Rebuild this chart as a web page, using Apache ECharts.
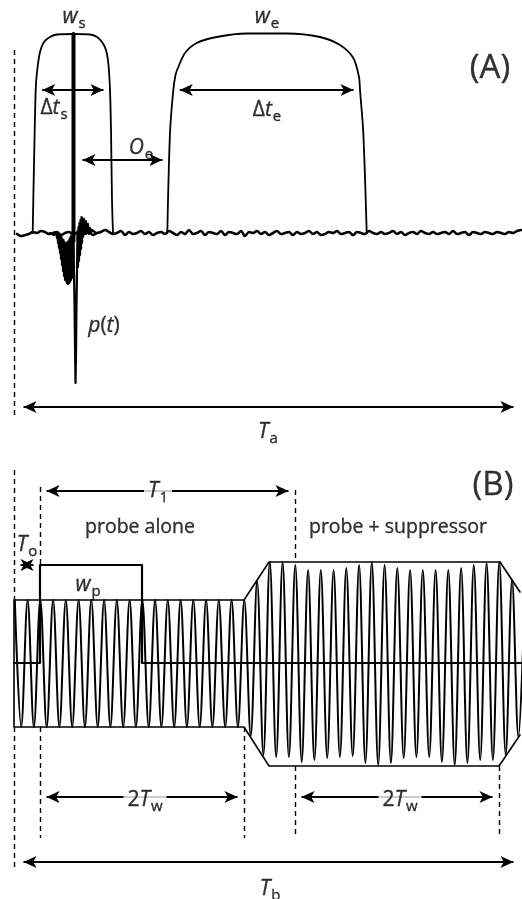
<!DOCTYPE html>
<html>
<head>
<meta charset="utf-8">
<script src="https://cdn.jsdelivr.net/npm/echarts@6/dist/echarts.min.js"></script>
<style>
  html, body { margin: 0; padding: 0; background: #fff; }
  #c { width: 522px; height: 899px; }
</style>
</head>
<body>
<div id="c"></div>
<script>
// ---------- Panel A: analysis windows and recorded pressure p(t) ----------
// time measured from the dashed origin, amplitude above the baseline
const sWinT = [18.7, 19.3, 20.5, 21.7, 23, 26, 30, 36, 43, 60, 76, 83, 88, 92, 94.5, 96, 97, 98, 99];
const sWinA = [0, 33, 93, 143, 161, 181, 191, 196, 198.5, 199, 198.5, 196, 191, 183, 168, 143, 103, 33, 0];

const eWinT = [153.3, 156, 159.3, 161.5, 164.3, 171, 182.7, 202.7, 232.7, 272.7, 306, 326, 339.3, 345, 346, 349.3, 352.7];
const eWinA = [0, 100, 143, 158, 166, 180, 190, 196, 199.5, 199.5, 196, 188, 175, 156, 143, 100, 0];

// direct-path pulse p(t)
const pulseT = [36, 38, 40, 42,
  43, 43.5, 44, 44.5, 45, 45.5, 46, 46.5, 47, 47.5,
  48, 48.5, 49, 49.5, 50, 50.5, 51, 51.5, 52, 52.5,
  53, 53.5, 54, 54.5, 55, 55.5, 56, 56.5, 57, 57.5,
  58, 58.5, 59, 59.5, 60, 60.5, 61, 61.5, 62, 62.5,
  63, 63.5, 64, 64.5, 65, 65.5, 66, 66.5, 67, 67.5,
  68, 68.5, 69,
  70, 71, 72, 73, 74, 75, 76, 77, 78, 80, 82];
const pulseA = [0, 2, -2, 1,
  -5, 0, -10, -1, -15, -2, -20, -3, -26, -4,
  -32, -6, -38, -7, -43, -9, -47, -10, -48, -10,
  -50, -9, -51, -8, -50, -6, -49, -4, -47, -2,
  -45, 0, -42, 4, -40, -70, -110, -150, -120, -70,
  -38, 2, -34, 6, -28, 10, -22, 13, -16, 16,
  -10, 15, -4,
  14, -1, 12, 0, 9, -1, 5, 0, 3, 1, 0];

// background noise along the baseline, one reading every noiseStep
const noiseStart = 3, noiseStep = 4;
const noiseA = [
  -1, -3, -2, -1, 1, 0, 2, 1, -1, 0, 1, -2,
  0, 1, -1, 0, 2, -1, 1, -2, 0, 1, 3, 1,
  -1, 0, 2, -2, 1, -1, 0, 2, -1, 1, -2, 0,
  1, -1, 2, 0, -2, 1, -1, 3, -1, 0, 2, -2,
  1, 0, -1, 2, -2, 1, 0, -1, 2, -3, 1, 0,
  2, -1, 1, -2, 0, 2, -1, 0, 1, -2, 1, -1,
  0, 2, -1, 1, -2, -1, 1, 0, 2, -1, 0, 1,
  -2, 1, 0, -1, 2, 0, -1, 1, -1, 0, 2, -1,
  1, -2, 0, 1, -1, 2, 0, -1, 1, -1, 0, 1,
  -1, 2, -1, 0, 1, -2, 1, 0, -1, 1, 0, -1,
  1, 0, -1, 1, 0, 2, 3
];

// ---------- Panel B: probe burst, then probe + suppressor ----------
// successive peaks and troughs of the carrier
const carrierT = [0.8, 7.2, 13.6, 19.9, 26.3, 32.7, 39.1, 45.4, 51.8, 58.2, 64.6, 70.9, 77.3, 83.7, 90.1, 96.4,
  102.8, 109.2, 115.6, 121.9, 128.3, 134.7, 141.1, 147.4, 153.8, 160.2, 166.6, 172.9, 179.3, 185.7, 192.1,
  198.4, 204.8, 211.2, 217.6, 223.9, 230.3,
  236.7, 243.1, 249.4, 255.8,
  262.2, 268.6, 274.9, 281.3, 287.7, 294.1, 300.4, 306.8, 313.2, 319.6, 325.9, 332.3, 338.7, 345.1, 351.4,
  357.8, 364.2, 370.6, 376.9, 383.3, 389.7, 396.1, 402.4, 408.8, 415.2, 421.6, 427.9, 434.3, 440.7, 447.1,
  453.4, 459.8, 466.2, 472.6, 478.9, 485.3, 491.7, 498.1, 504.4, 510.8];
const carrierA = [63, -64, 63, -64, 63, -64, 63, -64, 63, -64, 63, -64, 63, -64, 63, -64,
  63, -64, 63, -64, 63, -64, 63, -64, 63, -64, 63, -64, 63, -64, 63,
  -64, 63, -64, 63, -64, 63,
  -73, 82, -92, 101,
  -94, 101, -94, 98, -99, 93, -97, 93, -95, 93, -94, 95, -93, 98, -100,
  101, -102, 98, -100, 95, -95, 93, -94, 93, -94, 93, -99, 93, -102, 95,
  -100, 98, -97, 100, -97, 101, -92, 83, -74, 70];

// outline of the burst envelope
const envT = [506, 486, 255, 230, 0, 0, 230, 255, 485, 506];
const envA = [71, 101, 101, 63, 63, -64, -64, -103, -103, -72];

// probe gate w_p
const gateT = [0, 26, 26, 128, 128, 507];
const gateA = [0, 0, 98, 98, 0, 0];

// ---------- drawing ----------
const FONT = "'Open Sans', 'DejaVu Sans', sans-serif";
const ink = { color: '#000', textBorderColor: '#000', textBorderWidth: 0.35 };
const rich = {
  i:   Object.assign({ fontFamily: FONT, fontStyle: 'italic', fontSize: 21, lineHeight: 26 }, ink),
  r:   Object.assign({ fontFamily: FONT, fontSize: 21, lineHeight: 26 }, ink),
  s:   Object.assign({ fontFamily: FONT, fontSize: 15, lineHeight: 15, padding: [13, 0, 0, 1] }, ink),
  t:   Object.assign({ fontFamily: FONT, fontSize: 19.5, lineHeight: 24 }, ink),
  big: Object.assign({ fontFamily: FONT, fontSize: 33, lineHeight: 38 }, ink)
};

const pairs = (t, a) => t.map((x, i) => [x, a[i]]);
const noisePts = noiseA.map((v, i) => [noiseStart + i * noiseStep, v]);

function curve(xi, data, width, smooth, extra) {
  return Object.assign({
    type: 'line', xAxisIndex: xi, yAxisIndex: xi, data: data,
    showSymbol: false, symbol: 'none', smooth: smooth,
    lineStyle: { color: '#000', width: width, cap: 'round', join: 'round' },
    silent: true, animation: false, z: 3
  }, extra || {});
}

// double-headed arrow between two tip positions (axis units equal pixels here)
const HEAD = 6.5;
function arrow(x1, y1, x2, y2, heads) {
  const d = Math.hypot(x2 - x1, y2 - y1), ux = (x2 - x1) / d, uy = (y2 - y1) / d;
  const h = heads || ['arrow', 'arrow'];
  const i1 = h[0] === 'arrow' ? HEAD : 0, i2 = h[1] === 'arrow' ? HEAD : 0;
  return [
    { coord: [x1 + ux * i1, y1 + uy * i1], symbol: h[0] },
    { coord: [x2 - ux * i2, y2 - uy * i2], symbol: h[1] }
  ];
}
const dash = (x, y1, y2) => [{ coord: [x, y1] }, { coord: [x, y2] }];

const arrowMarks = data => ({
  silent: true, animation: false, symbol: ['arrow', 'arrow'], symbolSize: [9, 13],
  label: { show: false }, emphasis: { disabled: true },
  lineStyle: { color: '#000', width: 1.9, type: 'solid' }, data: data
});
const dashMarks = data => ({
  silent: true, animation: false, symbol: ['none', 'none'],
  label: { show: false }, emphasis: { disabled: true },
  lineStyle: { color: '#000', width: 1.4, type: [5, 4] }, data: data
});

function labels(xi, list) {
  return {
    type: 'scatter', xAxisIndex: xi, yAxisIndex: xi, symbolSize: 0, silent: true, animation: false, z: 10,
    data: list.map(l => ({
      value: l.at,
      label: Object.assign({
        show: true, position: 'inside', align: 'center', verticalAlign: 'middle',
        color: '#000', formatter: l.text, rich: rich
      }, l.box ? { backgroundColor: '#fff', padding: [0, 4] } : {})
    }))
  };
}

const option = {
  backgroundColor: '#fff',
  animation: false,
  grid: [
    { left: 14, top: 0, width: 507, height: 440 },
    { left: 14, top: 440, width: 507, height: 459 }
  ],
  xAxis: [
    { type: 'value', gridIndex: 0, min: 0, max: 507, show: false },
    { type: 'value', gridIndex: 1, min: 0, max: 507, show: false }
  ],
  yAxis: [
    { type: 'value', gridIndex: 0, min: -207, max: 233, show: false },
    { type: 'value', gridIndex: 1, min: -236, max: 223, show: false }
  ],
  series: [
    // panel A
    curve(0, noisePts, 2.6, 0.35),
    curve(0, pairs(sWinT, sWinA), 1.8, 0.3, {
      markLine: arrowMarks([
        arrow(21.7, 143, 96, 143),
        arrow(62, 73, 155, 73),
        arrow(159.3, 143, 346, 143),
        arrow(3, -174, 506, -174)
      ])
    }),
    curve(0, pairs(eWinT, eWinA), 1.8, 0.3, {
      markLine: dashMarks([dash(0, 183, -184)])
    }),
    curve(0, [[59.5, 199], [59.5, -8]], 4, false),
    curve(0, pairs(pulseT, pulseA), 2.2, false),
    labels(0, [
      { at: [60, 216], text: '{i|w}{s|s}' },
      { at: [40, 125], text: '{r|Δ}{i|t}{s|s}' },
      { at: [127, 85], text: '{i|O}{s|e}' },
      { at: [253, 216], text: '{i|w}{s|e}' },
      { at: [253, 123], text: '{r|Δ}{i|t}{s|e}' },
      { at: [476, 164], text: '{big|(A)}' },
      { at: [90, -93], text: '{i|p}{r|(}{i|t}{r|)}' },
      { at: [254, -199], text: '{i|T}{s|a}' }
    ]),
    // panel B
    curve(1, pairs(carrierT, carrierA), 2, 0.35),
    curve(1, pairs(envT, envA), 1.6, false, {
      markLine: dashMarks([
        dash(0, 193, 63), dash(0, -64, -204),
        dash(26, 176, 98), dash(26, -64, -175),
        dash(230, -64, -175),
        dash(281, 173, 101), dash(281, -103, -175),
        dash(485, -103, -175)
      ])
    }),
    curve(1, pairs(gateT, gateA), 2.2, false, {
      markLine: arrowMarks([
        arrow(26, 172, 281, 172),
        arrow(0, 98, 26, 98),
        arrow(26, -134, 230, -134),
        arrow(281, -134, 485, -134),
        arrow(3, -199, 506, -199)
      ])
    }),
    labels(1, [
      { at: [144, 172], text: '{i|T}{s|1}', box: true },
      { at: [13, 118], text: '{i|T}{s|o}' },
      { at: [74, 78], text: '{i|w}{s|p}' },
      { at: [126, 136], text: '{t|probe alone}' },
      { at: [384, 136], text: '{t|probe + suppressor}' },
      { at: [479, 177], text: '{big|(B)}' },
      { at: [131, -137], text: '{r|2}{i|T}{s|w}', box: true },
      { at: [386, -137], text: '{r|2}{i|T}{s|w}', box: true },
      { at: [256, -226], text: '{i|T}{s|b}' }
    ])
  ]
};

const chart = echarts.init(document.getElementById('c'), null, { renderer: 'canvas' });
chart.setOption(option);
</script>
</body>
</html>
